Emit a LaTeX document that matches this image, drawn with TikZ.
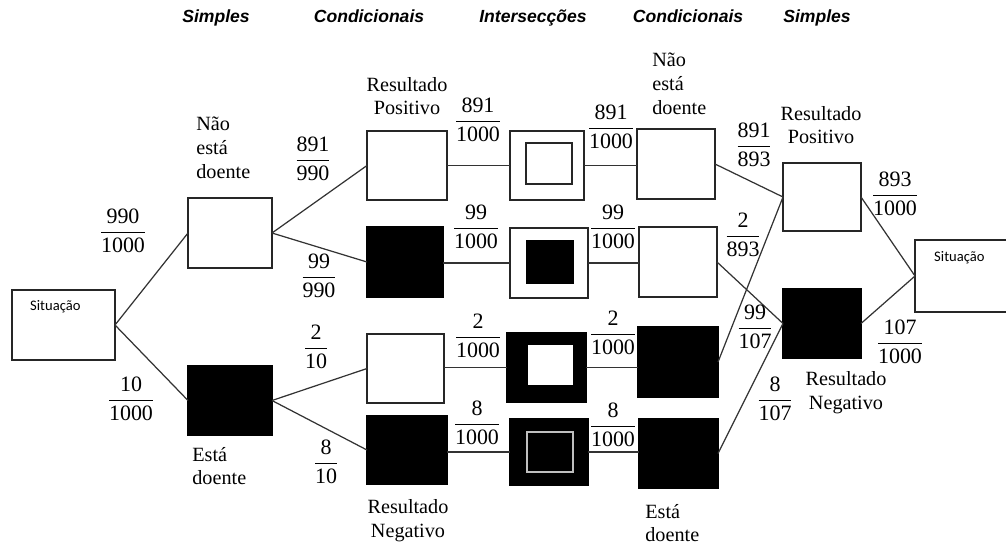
\documentclass[tikz,border=0pt]{standalone}
\usepackage{fontspec}
\usepackage{tikz}
\setmainfont{Liberation Serif}
\newfontfamily\hdfont{Liberation Sans}
\newfontfamily\calfont{Carlito}

\tikzset{
    wbox/.style={draw=black!85, fill=white, line width=0.7pt, inner sep=0pt, outer sep=0pt},
    bbox/.style={draw=black, fill=black, line width=0.7pt, inner sep=0pt, outer sep=0pt},
    wlbox/.style={draw=black!85, fill=white, line width=0.7pt, inner sep=0pt, outer sep=0pt},
    glbox/.style={draw=black!25, fill=black, line width=0.6pt, inner sep=0pt, outer sep=0pt},
    link/.style={draw=black!80, line width=0.7pt},
    head/.style={font=\hdfont\bfseries\itshape\fontsize{10}{12}\selectfont, anchor=base},
    txt/.style={font=\fontsize{11.5}{13.5}\selectfont, inner sep=0pt},
    frac/.style={font=\fontsize{12.5}{14}\selectfont, inner sep=0pt},
}
% box from its corners (pixels)
\newcommand{\bx}[6]{\node[#2, anchor=north west, minimum width={(#5-#3)*0.02cm}, minimum height={(#6-#4)*0.02cm}] (#1) at (#3,#4) {};}
\newcommand{\fr}[2]{$\displaystyle\frac{\mbox{#1}}{\mbox{#2}}$}

\begin{document}
\begin{tikzpicture}[x=0.02cm, y=-0.02cm]
    \clip (0,0) rectangle (1006,545);

    % headings
    \node[head] (h1) at (216,22) {Simples};
    \node[head] (h2) at (369,22) {Condicionais};
    \node[head] (h3) at (533,22) {Intersecções};
    \node[head] (h4) at (688,22) {Condicionais};
    \node[head] (h5) at (817,22) {Simples};

    % first situation and simple events
    \bx{sitL}{wbox}{12}{290}{115}{360}
    \node[font=\calfont\fontsize{8.3}{10}\selectfont, anchor=west] (sitLt) at (24,307) {Situação};
    \bx{nd}{wbox}{188}{198}{272}{268}
    \bx{dd}{bbox}{188}{366}{272}{435}

    % conditionals (test result)
    \bx{rp1}{wbox}{367}{131}{447}{200}
    \bx{rn1}{bbox}{367}{227}{443}{297}
    \bx{rp2}{wbox}{367}{334}{444}{403}
    \bx{rn2}{bbox}{367}{416}{447}{484}

    % intersections
    \bx{i1}{wbox}{510}{131}{584}{200}
    \bx{i1in}{wlbox}{526}{143}{572}{184}
    \bx{i2}{wbox}{510}{228}{588}{298}
    \bx{i2in}{bbox}{527}{241}{573}{283}
    \bx{i3}{bbox}{507}{333}{586}{402}
    \node[fill=white, inner sep=0pt, anchor=north west, minimum width=0.9cm, minimum height=0.8cm] (i3in) at (528,345) {};
    \bx{i4}{bbox}{510}{419}{588}{485}
    \bx{i4in}{glbox}{527}{432}{573}{472}

    % conditionals (illness)
    \bx{c1}{wbox}{637}{129}{715}{199}
    \bx{c2}{wbox}{639}{227}{717}{297}
    \bx{c3}{bbox}{638}{327}{718}{397}
    \bx{c4}{bbox}{639}{419}{718}{488}

    % simple events (test result)
    \bx{rp}{wbox}{783}{163}{861}{231}
    \bx{rn}{bbox}{783}{289}{861}{358}

    % second situation
    \bx{sitR}{wbox}{915}{240}{1012}{312}
    \node[font=\calfont\fontsize{8.3}{10}\selectfont, anchor=west] (sitRt) at (928,258) {Situação};

    % branches
    \draw[link] (sitL.east) -- (nd.west);
    \draw[link] (sitL.east) -- (dd.west);
    \draw[link] (nd.east) -- (rp1.west);
    \draw[link] (nd.east) -- (rn1.west);
    \draw[link] (dd.east) -- (rp2.west);
    \draw[link] (dd.east) -- (rn2.west);
    \draw[link] (i1.west -| rp1.east) -- (i1.west);
    \draw[link] (i2.west -| rn1.east) -- (i2.west);
    \draw[link] (i3.west -| rp2.east) -- (i3.west);
    \draw[link] (i4.west -| rn2.east) -- (i4.west);
    \draw[link] (i1.east) -- (i1.east -| c1.west);
    \draw[link] (i2.east) -- (i2.east -| c2.west);
    \draw[link] (i3.east) -- (i3.east -| c3.west);
    \draw[link] (i4.east) -- (i4.east -| c4.west);
    \draw[link] (c1.east) -- (rp.west);
    \draw[link] (c3.east) -- (rp.west);
    \draw[link] (c2.east) -- (rn.west);
    \draw[link] (c4.east) -- (rn.west);
    \draw[link] (rp.east) -- (sitR.west);
    \draw[link] (rn.east) -- (sitR.west);

    % labels
    \node[txt, anchor=west, align=left] (ndt) at (196,148) {Não\\está\\doente};
    \node[txt, anchor=west, align=left] (ddt) at (192,466) {Está\\doente};
    \node[txt, align=center] (rp1t) at (407,96) {Resultado\\Positivo};
    \node[txt, align=center] (rn2t) at (408,521) {Resultado\\Negativo};
    \node[txt, anchor=west, align=left] (c1t) at (652,84) {Não\\está\\doente};
    \node[txt, anchor=west, align=left] (c4t) at (645,523) {Está\\doente};
    \node[txt, align=center] (rpt) at (821,125) {Resultado\\Positivo};
    \node[txt, align=center] (rnt) at (846,393) {Resultado\\Negativo};

    % probabilities
    \node[frac] (p1) at (123,231) {\fr{990}{1000}};
    \node[frac] (p2) at (131,399) {\fr{10}{1000}};
    \node[frac] (p3) at (313,159) {\fr{891}{990}};
    \node[frac] (p4) at (319,276) {\fr{99}{990}};
    \node[frac] (p5) at (316,347) {\fr{2}{10}};
    \node[frac] (p6) at (326,462) {\fr{8}{10}};
    \node[frac] (p7) at (478,120) {\fr{891}{1000}};
    \node[frac] (p8) at (476,227) {\fr{99}{1000}};
    \node[frac] (p9) at (478,336) {\fr{2}{1000}};
    \node[frac] (p10) at (477,423) {\fr{8}{1000}};
    \node[frac] (p11) at (611,127) {\fr{891}{1000}};
    \node[frac] (p12) at (613,227) {\fr{99}{1000}};
    \node[frac] (p13) at (613,333) {\fr{2}{1000}};
    \node[frac] (p14) at (613,425) {\fr{8}{1000}};
    \node[frac] (p15) at (754,145) {\fr{891}{893}};
    \node[frac] (p16) at (743,235) {\fr{2}{893}};
    \node[frac] (p17) at (755,327) {\fr{99}{107}};
    \node[frac] (p18) at (775,399) {\fr{8}{107}};
    \node[frac] (p19) at (895,194) {\fr{893}{1000}};
    \node[frac] (p20) at (900,342) {\fr{107}{1000}};
\end{tikzpicture}
\end{document}
